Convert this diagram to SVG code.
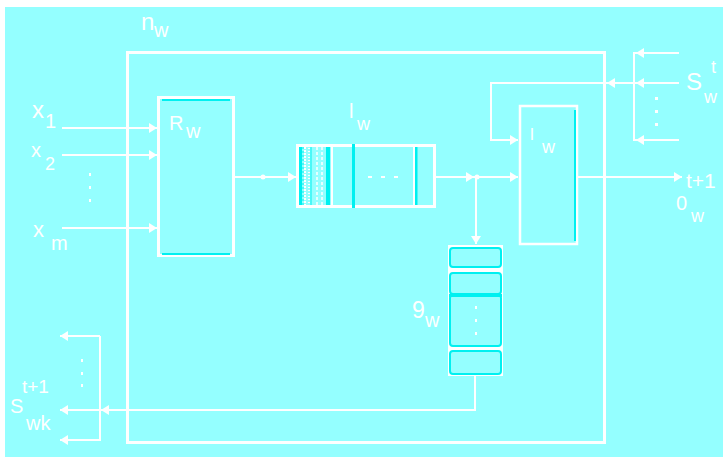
<svg xmlns="http://www.w3.org/2000/svg" width="723" height="457" viewBox="0 0 723 457">
<style>
.t{font-family:"Liberation Sans",Arial,sans-serif;fill:#fff}
.w{fill:none;stroke:#fff;stroke-width:2}
.box{fill:none;stroke:#fff;stroke-width:3}
.cy{stroke:#00f0f0;fill:none}
.dot{fill:#fff}
</style>
<defs>
<marker id="ah" markerUnits="userSpaceOnUse" markerWidth="9" markerHeight="11" refX="8" refY="5.5" orient="auto">
<path d="M0,0.5 L8,5.5 L0,10.5 z" fill="#fff"/>
</marker>
<path id="hl" d="M0,0 L8,-5 L8,5 z" fill="#fff"/>
</defs>
<rect x="0" y="0" width="723" height="457" fill="#fff"/>
<rect x="5" y="7" width="718" height="450" fill="#94ffff"/>

<g id="outer">
<rect class="box" x="127.5" y="52.5" width="477" height="390"/>
<text class="t" x="141" y="30" font-size="24">n</text>
<text class="t" x="154" y="37" font-size="20">w</text>
</g>

<g id="inputs">
<text class="t" x="32" y="118" font-size="24">x</text>
<text class="t" x="45" y="128" font-size="20">1</text>
<text class="t" x="31" y="157" font-size="20">x</text>
<text class="t" x="45" y="170" font-size="18">2</text>
<rect class="dot" x="89" y="173" width="2" height="3"/>
<rect class="dot" x="89" y="186" width="2" height="3"/>
<rect class="dot" x="89" y="199" width="2" height="3"/>
<text class="t" x="33" y="237" font-size="22">x</text>
<text class="t" x="51" y="250" font-size="20">m</text>
</g>

<g id="Rw">
<rect class="box" x="158.5" y="97.5" width="75" height="158"/>
<line class="cy" stroke-width="2" x1="162" y1="100" x2="230" y2="100"/>
<line class="cy" stroke-width="2" x1="162" y1="254" x2="230" y2="254"/>
<text class="t" x="169" y="130" font-size="20">R</text>
<text class="t" x="186" y="138" font-size="20">w</text>
</g>

<g id="buffer">
<rect class="box" x="297.5" y="145.5" width="137" height="61"/>
<rect x="299" y="147" width="3" height="58" fill="#00f0f0"/>
<line x1="305" y1="147" x2="305" y2="205" stroke="#fff" stroke-width="2" stroke-dasharray="2 1"/>
<line x1="309" y1="148" x2="309" y2="205" stroke="#fff" stroke-width="2" stroke-dasharray="1 2"/>
<line x1="303" y1="147" x2="303" y2="205" stroke="#00f0f0" stroke-width="1" stroke-dasharray="2 2"/>
<line x1="311" y1="147" x2="311" y2="205" stroke="#00f0f0" stroke-width="1"/>
<line x1="317" y1="147" x2="317" y2="205" stroke="#fff" stroke-width="1.5" stroke-dasharray="3 2"/>
<line x1="322" y1="147" x2="322" y2="205" stroke="#fff" stroke-width="1.5" stroke-dasharray="3 2"/>
<rect x="326" y="147" width="4" height="58" fill="#00f0f0"/>
<line x1="332" y1="147" x2="332" y2="205" stroke="#fff" stroke-width="2"/>
<rect x="352" y="144" width="3" height="64" fill="#00f0f0"/>
<line x1="368" y1="177" x2="372" y2="177" stroke="#fff" stroke-width="2"/>
<line x1="381" y1="177" x2="385" y2="177" stroke="#fff" stroke-width="2"/>
<line x1="394" y1="177" x2="398" y2="177" stroke="#fff" stroke-width="2"/>
<line x1="414" y1="147" x2="414" y2="205" stroke="#fff" stroke-width="2"/>
<rect x="415" y="147" width="2.5" height="58" fill="#00f0f0"/>
<text class="t" x="349" y="118" font-size="20">l</text>
<text class="t" x="357" y="130" font-size="18">w</text>
</g>

<g id="Iw">
<rect fill="none" stroke="#fff" stroke-width="2.5" x="520" y="106" width="57" height="138"/>
<line class="cy" stroke-width="2" x1="575" y1="110" x2="575" y2="241"/>
<text class="t" x="530" y="140" font-size="17">l</text>
<text class="t" x="542" y="153" font-size="18">w</text>
</g>

<g id="gw">
<rect x="448" y="245" width="55" height="131" fill="#fff"/>
<rect x="450" y="248" width="51" height="19" rx="3" fill="#94ffff" stroke="#00f0f0" stroke-width="2"/>
<rect x="450" y="273" width="51" height="21" rx="3" fill="#94ffff" stroke="#00f0f0" stroke-width="2"/>
<rect x="450" y="295" width="51" height="51" rx="3" fill="#94ffff" stroke="#00f0f0" stroke-width="2"/>
<rect x="450" y="351" width="51" height="23" rx="3" fill="#94ffff" stroke="#00f0f0" stroke-width="2"/>
<rect x="449" y="294" width="53" height="3" fill="#00f0f0"/>
<rect class="dot" x="475" y="306" width="2" height="3"/>
<rect class="dot" x="475" y="319" width="2" height="3"/>
<rect class="dot" x="475" y="332" width="2" height="3"/>
<text class="t" x="412" y="318" font-size="23">9</text>
<text class="t" x="425" y="327" font-size="20">w</text>
</g>

<g id="Swt">
<text class="t" x="686" y="90" font-size="24">S</text>
<text class="t" x="711" y="73" font-size="18">t</text>
<text class="t" x="704" y="103" font-size="18">w</text>
<rect class="dot" x="655" y="97" width="3" height="3"/>
<rect class="dot" x="655" y="110" width="3" height="3"/>
<rect class="dot" x="655" y="123" width="3" height="3"/>
</g>

<g id="Owt">
<text class="t" x="686" y="188" font-size="21">t+1</text>
<text class="t" x="676" y="210" font-size="20">0</text>
<text class="t" x="691" y="222" font-size="18">w</text>
</g>

<g id="Swk">
<text class="t" x="22" y="393" font-size="19">t+1</text>
<text class="t" x="10" y="413" font-size="20">S</text>
<text class="t" x="26" y="430" font-size="20">wk</text>
<rect class="dot" x="81" y="359" width="2" height="3"/>
<rect class="dot" x="81" y="372" width="2" height="3"/>
<rect class="dot" x="81" y="384" width="2" height="3"/>
</g>

<g id="connectors">
<line class="w" x1="62" y1="128" x2="157" y2="128" marker-end="url(#ah)"/>
<line class="w" x1="62" y1="155" x2="157" y2="155" marker-end="url(#ah)"/>
<line class="w" x1="62" y1="228" x2="157" y2="228" marker-end="url(#ah)"/>
<line class="w" x1="235" y1="177" x2="296" y2="177" marker-end="url(#ah)"/>
<circle cx="263" cy="177" r="2.5" fill="#fff"/>
<line class="w" x1="436" y1="177" x2="474" y2="177" marker-end="url(#ah)"/>
<line class="w" x1="474" y1="177" x2="518" y2="177" marker-end="url(#ah)"/>
<circle cx="477" cy="177" r="2.5" fill="#fff"/>
<line class="w" x1="476" y1="177" x2="476" y2="244" marker-end="url(#ah)"/>
<line class="w" x1="578" y1="177" x2="682" y2="177" marker-end="url(#ah)"/>
<line class="w" x1="634" y1="53" x2="679" y2="53"/>
<line class="w" x1="634" y1="140" x2="679" y2="140"/>
<line class="w" x1="634" y1="52" x2="634" y2="141"/>
<use href="#hl" x="636" y="53"/>
<use href="#hl" x="636" y="140"/>
<use href="#hl" x="636" y="83"/>
<use href="#hl" x="607" y="83"/>
<path class="w" d="M679,83 H491 V140 H518" marker-end="url(#ah)"/>
<path class="w" d="M475,376 V410 H60" marker-end="url(#ah)"/>
<use href="#hl" x="101" y="410"/>
<line class="w" x1="100" y1="336" x2="100" y2="441"/>
<line class="w" x1="100" y1="336" x2="60" y2="336" marker-end="url(#ah)"/>
<line class="w" x1="100" y1="440" x2="60" y2="440" marker-end="url(#ah)"/>
</g>
</svg>
